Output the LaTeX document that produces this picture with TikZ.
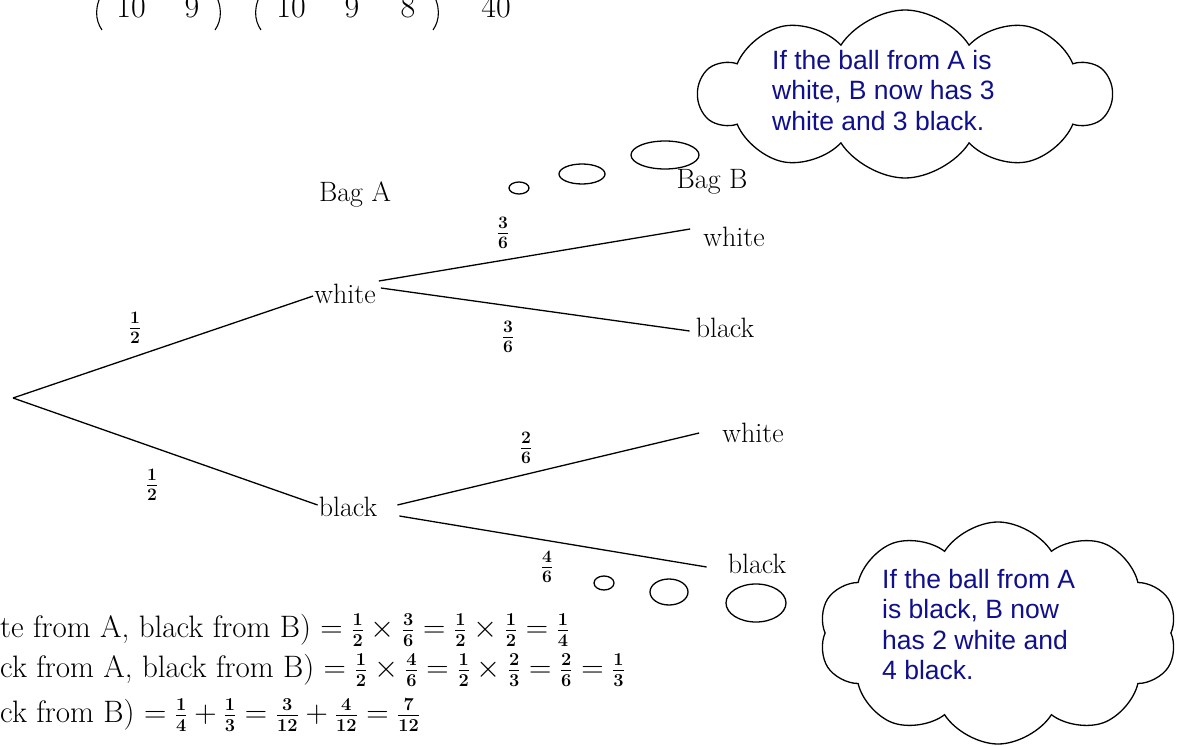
\RequirePackage{fix-cm}
\documentclass[tikz,border=0pt]{standalone}
\usepackage{fontspec}
\usepackage{amsmath}
\newfontfamily\cloudfont{Liberation Sans}
\usetikzlibrary{shapes.symbols}
\definecolor{navytext}{RGB}{16,16,140}
\newcommand{\smfrac}[2]{\text{\fontsize{26}{30}\selectfont\boldmath$\frac{#1}{#2}$}}
\tikzset{
  hand/.style={font=\fontsize{28}{34}\selectfont, inner sep=1pt},
  prob/.style={font=\fontsize{25}{30}\selectfont\boldmath, inner sep=0pt},
  eqn/.style={font=\fontsize{31}{38}\selectfont, inner sep=0pt, anchor=base west},
  branch/.style={line width=1.3pt},
  bubble/.style={cloud, draw, line width=1.3pt, cloud puffs=10, cloud puff arc=115, cloud ignores aspect, fill=white},
  thought/.style={line width=1.3pt},
  cloudtext/.style={font=\cloudfont\fontsize{26.5}{30.3}\selectfont, text=navytext, align=left, anchor=north west, inner sep=0pt},
  topnum/.style={font=\fontsize{32}{38}\selectfont, inner sep=0pt, anchor=base},
  paren/.style={line width=1.1pt}
}
\begin{document}
\begin{tikzpicture}[x=1pt,y=-1pt]
\useasboundingbox (0,0) rectangle (1183,746);
\clip (0,0) rectangle (1183,746);

% cropped top row
\node[topnum] (t1) at (131,18) {10};
\node[topnum] (t2) at (192,18) {9};
\node[topnum] (t3) at (291,18) {10};
\node[topnum] (t4) at (352,18) {9};
\node[topnum] (t5) at (408,18) {8};
\node[topnum] (t6) at (496,18) {40};
\draw[paren] (104,-10) .. controls (94,6) and (95,20) .. (102,30);
\draw[paren] (213,-10) .. controls (223,6) and (222,20) .. (215,30);
\draw[paren] (263,-10) .. controls (253,6) and (254,20) .. (261,30);
\draw[paren] (431,-10) .. controls (441,6) and (440,20) .. (433,30);

% tree
\coordinate (root) at (13,398);
\node[hand] (bagA) at (355,194) {Bag A};
\node[hand] (bagB) at (712,182) {Bag B};
\node[hand] (wA) at (345,294) {white};
\node[hand] (bA) at (348,507) {black};
\node[hand] (wwB) at (734,237) {white};
\node[hand] (wbB) at (725,328) {black};
\node[hand] (bwB) at (753,433) {white};
\node[hand] (bbB) at (757,564) {black};

\draw[branch] (root) -- ([yshift=-2pt]wA.west);
\draw[branch] (root) -- ([yshift=2pt]bA.west);
\draw[branch] ([xshift=2pt,yshift=13pt]wA.east) -- ([xshift=-12pt,yshift=8pt]wwB.west);
\draw[branch] ([xshift=4pt,yshift=6pt]wA.east) -- ([xshift=-5pt,yshift=-3pt]wbB.west);
\draw[branch] ([xshift=19pt,yshift=2pt]bA.east) -- ([xshift=-22pt]bwB.west);
\draw[branch] ([xshift=21pt,yshift=-9pt]bA.east) -- ([xshift=-20pt,yshift=-3pt]bbB.west);

\node[prob] (p1) at (135,328) {$\frac{1}{2}$};
\node[prob] (p2) at (152,485) {$\frac{1}{2}$};
\node[prob] (p3) at (503,233) {$\frac{3}{6}$};
\node[prob] (p4) at (508,337) {$\frac{3}{6}$};
\node[prob] (p5) at (526,448) {$\frac{2}{6}$};
\node[prob] (p6) at (547,567) {$\frac{4}{6}$};

% equations
\node[eqn] (e1) at (0,637) {te from A, black from B) $=\smfrac{1}{2}\times\smfrac{3}{6}=\smfrac{1}{2}\times\smfrac{1}{2}=\smfrac{1}{4}$};
\node[eqn] (e2) at (0,677) {ck from A, black from B) $=\smfrac{1}{2}\times\smfrac{4}{6}=\smfrac{1}{2}\times\smfrac{2}{3}=\smfrac{2}{6}=\smfrac{1}{3}$};
\node[eqn] (e3) at (0,722) {ck from B) $=\smfrac{1}{4}+\smfrac{1}{3}=\smfrac{3}{12}+\smfrac{4}{12}=\smfrac{7}{12}$};

% thought bubbles top
\draw[thought] (519,188) ellipse [x radius=10, y radius=6];
\draw[thought] (582,174) ellipse [x radius=23, y radius=10];
\draw[thought] (665,155) ellipse [x radius=34, y radius=14];
\node[bubble, minimum width=412pt, minimum height=168pt] (c1) at (905,94) {};
\node[cloudtext] (c1t) at (772,50) {If the ball from A is\\white, B now has 3\\white and 3 black.};

% thought bubbles bottom
\draw[thought] (604,583) ellipse [x radius=10, y radius=7];
\draw[thought] (669,592) ellipse [x radius=19, y radius=13];
\draw[thought] (756,603) ellipse [x radius=30, y radius=19];
\node[bubble, minimum width=358pt, minimum height=222pt] (c2) at (998,633) {};
\node[cloudtext] (c2t) at (882,569) {If the ball from A\\is black, B now\\has 2 white and\\4 black.};
\end{tikzpicture}
\end{document}
